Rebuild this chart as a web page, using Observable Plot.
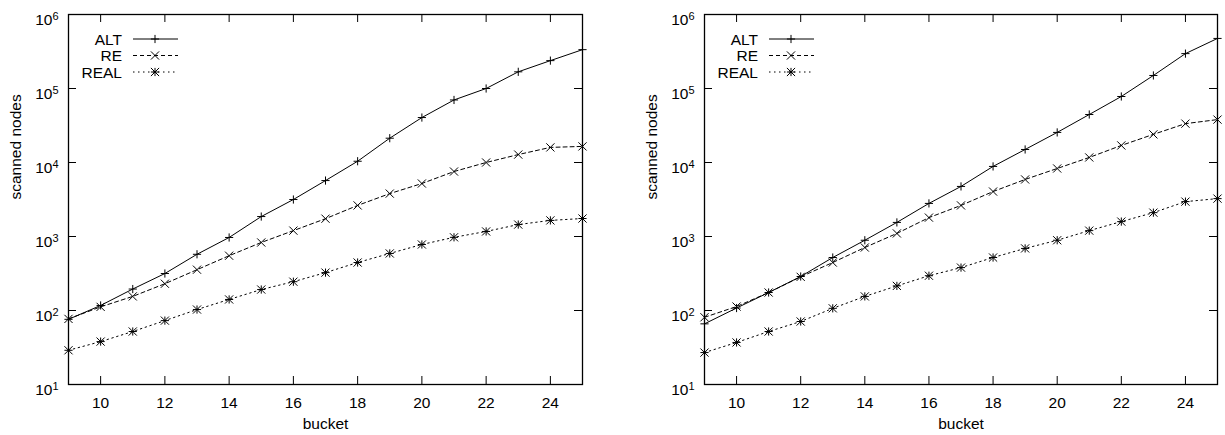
<!DOCTYPE html>
<html><head><meta charset="utf-8">
<script src="https://cdn.jsdelivr.net/npm/d3@7"></script>
<script src="https://cdn.jsdelivr.net/npm/@observablehq/plot@0.6"></script>
<style>
body{margin:0;background:#fff;}
#wrap{display:flex;width:1225px;height:435px;}
#wrap > div{flex:none;}
</style></head><body><div id="wrap"><div id="p1"></div><div id="p2"></div></div>
<script>
const buckets = [9,10,11,12,13,14,15,16,17,18,19,20,21,22,23,24,25];
const seriesNames = ["ALT","RE","REAL"];

const leftALT  = [76,117,195,316,575,970,1860,3160,5700,10400,21300,40500,70000,100000,168000,238000,335000];
const leftRE   = [77,112,155,230,356,550,830,1200,1740,2630,3800,5200,7550,10000,12800,16000,16500];
const leftREAL = [29,38,52,73,103,141,192,245,325,445,590,780,975,1170,1450,1650,1750];

const rightALT  = [66,108,175,288,520,890,1550,2800,4750,8850,15000,25500,44500,78000,150000,296000,475000];
const rightRE   = [81,113,175,285,445,710,1100,1800,2630,4050,5900,8300,11700,17000,24000,33500,38000];
const rightREAL = [27,37,52,71,107,155,215,295,380,520,690,890,1200,1590,2100,2960,3250];

const xTicks = [10,12,14,16,18,20,22,24];
const yTicks = [1e1,1e2,1e3,1e4,1e5,1e6];
const xLabel = "bucket";
const yLabel = "scanned nodes";

const styles = {
  ALT:  {dash: null,      symbols: ["plus"]},
  RE:   {dash: "4,3",     symbols: ["times"]},
  REAL: {dash: "1.5,3.5", symbols: ["plus","times"]}
};
const symR = {plus: 2.75, times: 3.8};
const FONT = "'Liberation Sans', Arial, Helvetica, sans-serif";
const FS = 15.5;

function makeTable(alt, re, real) {
  const rows = [];
  const cols = {ALT: alt, RE: re, REAL: real};
  for (const s of seriesNames) buckets.forEach((b, i) => rows.push({series: s, bucket: b, value: cols[s][i]}));
  return rows;
}

function panel(rows, width, mL, mR, labelX) {
  const mT = 14, mB = 51, height = 435;
  const fw = width - mL - mR, fh = height - mT - mB;
  const marks = [];
  for (const s of seriesNames) {
    const d = rows.filter(r => r.series === s);
    marks.push(Plot.line(d, {x: "bucket", y: "value", stroke: "black", strokeWidth: 1, strokeDasharray: styles[s].dash}));
    for (const sym of styles[s].symbols)
      marks.push(Plot.dot(d, {x: "bucket", y: "value", symbol: sym, r: symR[sym], stroke: "black", strokeWidth: 1}));
  }
  const chart = Plot.plot({
    width, height, marginLeft: mL, marginRight: mR, marginTop: mT, marginBottom: mB,
    style: {fontFamily: FONT, fontSize: FS + "px", background: "white", color: "black"},
    x: {domain: [9, 25]},
    y: {type: "log", domain: [10, 1e6]},
    marks: [
      Plot.axisX({ticks: xTicks, tickSize: 0, tickPadding: 12, tickFormat: d => String(d), label: null, fontSize: FS}),
      Plot.axisY({ticks: yTicks, tickSize: 0, tickPadding: 10, tickFormat: d => String(Math.round(Math.log10(d))), label: null, fontSize: FS}),
      Plot.tickX(xTicks, {x: d => d, stroke: "black", strokeWidth: 1, insetTop: fh - 8}),
      Plot.tickX(xTicks, {x: d => d, stroke: "black", strokeWidth: 1, insetBottom: fh - 8}),
      Plot.tickY(yTicks, {y: d => d, stroke: "black", strokeWidth: 1, insetRight: fw - 8}),
      Plot.tickY(yTicks, {y: d => d, stroke: "black", strokeWidth: 1, insetLeft: fw - 8}),
      ...marks,
      Plot.frame({stroke: "black", strokeWidth: 1.3}),
      Plot.text([xLabel], {frameAnchor: "bottom", dy: 44, text: d => d, fontSize: FS}),
      Plot.text([yLabel], {frameAnchor: "left", dx: labelX - mL, rotate: -90, text: d => d, fontSize: FS})
    ]
  });
  const svg = d3.select(chart);
  // superscript exponents on y tick labels
  svg.selectAll('g[aria-label="y-axis tick label"] text').each(function() {
    const t = d3.select(this);
    const e = t.text();
    t.text(null).attr("dy", "0.36em");
    t.append("tspan").text("10");
    t.append("tspan").attr("dy", "-0.5em").attr("font-size", "11px").text(e);
  });
  // legend
  const lx = mL, ly = mT;
  const g = svg.append("g").attr("font-family", FONT).attr("font-size", FS + "px");
  seriesNames.forEach((s, i) => {
    const y = ly + 25 + 16.5 * i;
    g.append("text").attr("x", lx + 54).attr("y", y).attr("dy", "0.36em").attr("text-anchor", "end").text(s);
    g.append("line").attr("x1", lx + 65).attr("x2", lx + 110).attr("y1", y).attr("y2", y)
      .attr("stroke", "black").attr("stroke-dasharray", styles[s].dash);
    for (const sym of styles[s].symbols) {
      const type = sym === "plus" ? d3.symbolPlus : d3.symbolTimes;
      g.append("path").attr("transform", `translate(${lx + 87},${y})`)
        .attr("d", d3.symbol(type, Math.PI * symR[sym] * symR[sym])())
        .attr("fill", "none").attr("stroke", "black");
    }
  });
  return chart;
}

document.getElementById("p1").append(panel(makeTable(leftALT, leftRE, leftREAL), 612, 68, 30, 16));
document.getElementById("p2").append(panel(makeTable(rightALT, rightRE, rightREAL), 613, 92, 8, 40));
</script>
</body></html>
